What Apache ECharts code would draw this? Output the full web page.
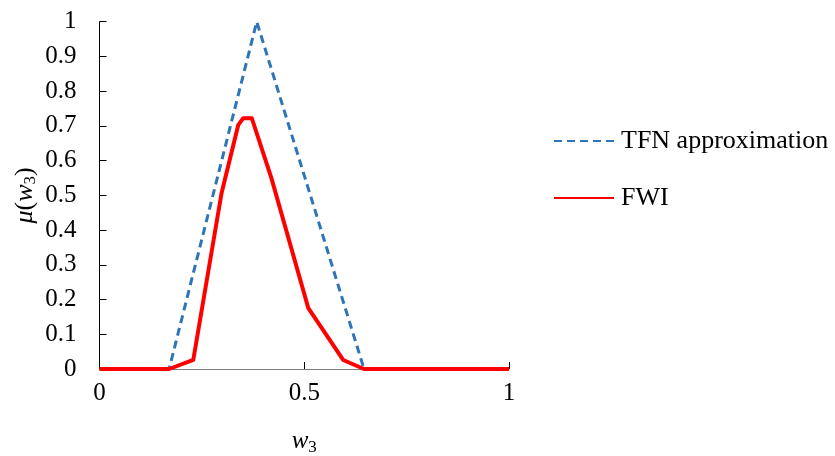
<!DOCTYPE html>
<html><head><meta charset="utf-8">
<script src="https://cdn.jsdelivr.net/npm/echarts@6/dist/echarts.min.js"></script>
<style>html,body{margin:0;padding:0;background:#fff}#c{width:835px;height:456px}</style>
</head><body><div id="c"></div>
<script>
// TFN approximation points [w3, mu]
const tfnX = [0, 0.170, 0.384, 0.646, 1];
const tfnY = [0, 0, 1, 0, 0];
// FWI points
const fwiX = [0, 0.170, 0.229, 0.298, 0.339, 0.351, 0.372, 0.420, 0.510, 0.595, 0.646, 1];
const fwiY = [0, 0, 0.026, 0.506, 0.703, 0.722, 0.722, 0.549, 0.175, 0.026, 0, 0];
const xTicks = [0, 0.5, 1];
const yTicks = [0, 0.1, 0.2, 0.3, 0.4, 0.5, 0.6, 0.7, 0.8, 0.9, 1];

const font = 'Liberation Serif, Times New Roman, serif';
const chart = echarts.init(document.getElementById('c'));
chart.setOption({
  animation: false,
  grid: {left: 99.5, right: 326, top: 21.7, bottom: 87, outerBoundsMode: 'none', containLabel: false},
  legend: {
    orient: 'vertical', left: 548, top: 123, itemWidth: 60, itemHeight: 14, itemGap: 31,
    itemStyle: {opacity: 0},
    textStyle: {fontFamily: font, fontSize: 26, color: '#000', padding: [0,0,0,2]},
    data: ['TFN approximation', 'FWI']
  },
  xAxis: {
    type: 'value', min: 0, max: 1, interval: 0.5,
    axisLine: {lineStyle: {color: '#7f7f7f', width: 1}},
    axisTick: {inside: true, length: 7, lineStyle: {color: '#000'}},
    splitLine: {show: false},
    axisLabel: {fontFamily: font, fontSize: 25, color: '#000', margin: 12,
      formatter: v => String(+v.toFixed(1))},
    name: '{i|w}{s|3}', nameLocation: 'middle', nameGap: 58,
    nameTextStyle: {rich: {
      i: {fontFamily: font, fontStyle: 'italic', fontSize: 25, color: '#000'},
      s: {fontFamily: font, fontSize: 17, color: '#000', padding: [12,0,0,0]}
    }}
  },
  yAxis: {
    type: 'value', min: 0, max: 1, interval: 0.1,
    axisLine: {show: true, lineStyle: {color: '#000', width: 1}},
    axisTick: {show: true, inside: true, length: 7, lineStyle: {color: '#000'}},
    splitLine: {show: false},
    axisLabel: {fontFamily: font, fontSize: 25, color: '#000', margin: 23,
      formatter: v => String(+v.toFixed(1))},
    name: '{i|μ}{n|(}{i|w}{s|3}{n|)}', nameLocation: 'middle', nameGap: 60, nameRotate: 90,
    nameTextStyle: {rich: {
      i: {fontFamily: font, fontStyle: 'italic', fontSize: 26, color: '#000'},
      n: {fontFamily: font, fontSize: 26, color: '#000'},
      s: {fontFamily: font, fontSize: 17, color: '#000', padding: [12,0,0,0]}
    }}
  },
  series: [
    {name: 'TFN approximation', type: 'line', symbol: 'none', z: 2,
     data: tfnX.map((x, i) => [x, tfnY[i]]),
     itemStyle: {color: '#2E75B6'},
     lineStyle: {color: '#2E75B6', width: 3, type: [8, 5]}},
    {name: 'FWI', type: 'line', symbol: 'none', z: 3,
     data: fwiX.map((x, i) => [x, fwiY[i]]),
     itemStyle: {color: '#FF0000'},
     lineStyle: {color: '#FF0000', width: 4, join: 'round'}}
  ]
});
</script></body></html>
